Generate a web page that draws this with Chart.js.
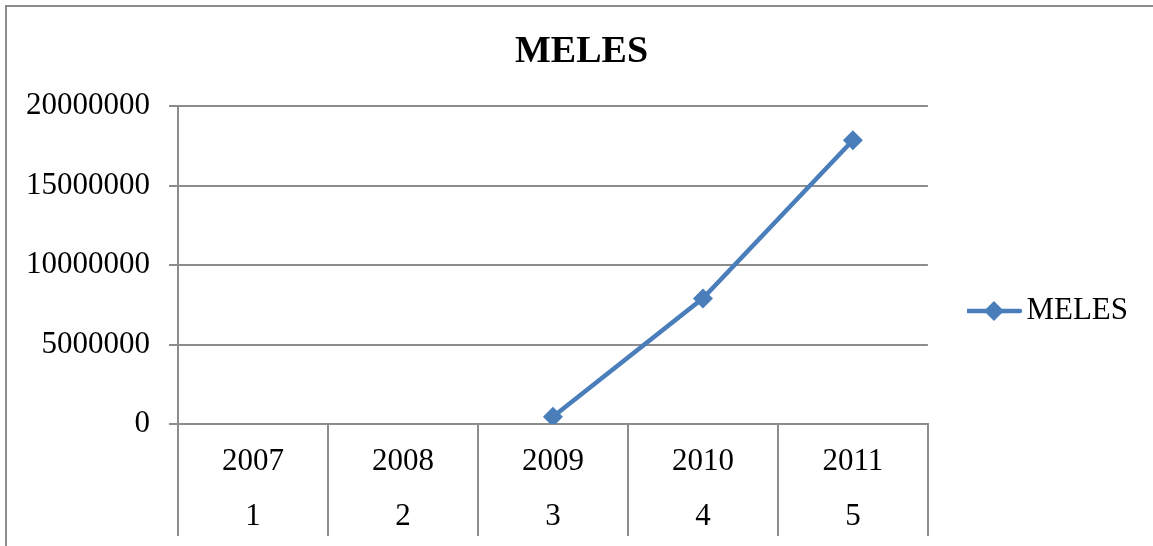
<!DOCTYPE html>
<html>
<head>
<meta charset="utf-8">
<title>MELES</title>
<script src="https://cdn.jsdelivr.net/npm/chart.js@4/dist/chart.umd.min.js"></script>
<style>
  html, body { margin: 0; padding: 0; background: #ffffff; }
  #wrap { position: relative; width: 1153px; height: 546px; }
</style>
</head>
<body>
<div id="wrap"><canvas id="chart" width="1153" height="546"></canvas></div>
<script>
// Years and their running index (two-row category labels)
const years = ['2007', '2008', '2009', '2010', '2011'];
const yearIndex = ['1', '2', '3', '4', '5'];
// MELES values per year (no value for the first two years)
const melesValues = [null, null, 450000, 7900000, 17850000];
// Value axis ticks
const yTicks = [0, 5000000, 10000000, 15000000, 20000000];

const categories = years.map((y, i) => [y, yearIndex[i]]);

const SERIES_COLOR = '#4A7EBB';
const GRID_COLOR = '#8c8c8c';
const FONT = 'Liberation Serif';

// Legend symbol: short line with a diamond marker
function legendSymbol() {
  const c = document.createElement('canvas');
  c.width = 58; c.height = 24;
  const g = c.getContext('2d');
  g.strokeStyle = SERIES_COLOR;
  g.lineWidth = 4.5;
  g.lineCap = 'round';
  g.beginPath(); g.moveTo(3, 12); g.lineTo(55, 12); g.stroke();
  g.fillStyle = SERIES_COLOR;
  g.beginPath();
  g.moveTo(29, 2); g.lineTo(39, 12); g.lineTo(29, 22); g.lineTo(19, 12); g.closePath();
  g.fill();
  return c;
}

// Outer chart frame
const framePlugin = {
  id: 'frame',
  beforeDraw(chart) {
    const ctx = chart.ctx;
    ctx.save();
    ctx.strokeStyle = GRID_COLOR;
    ctx.lineWidth = 2;
    ctx.strokeRect(6, 6, 1200, 600);
    ctx.restore();
  }
};

// Placement of the legend block beside the plot and of the title across the frame
const blockPlacement = {
  id: 'blockPlacement',
  afterLayout(chart) {
    const lg = chart.legend;
    if (lg) {
      const dy = 311 - (lg.top + lg.bottom) / 2;
      lg.top += dy;
      lg.bottom += dy;
      lg.left += 39;
      lg.right += 39;
    }
    const tb = chart.titleBlock;
    if (tb) {
      tb.left += 28;
      tb.right += 28;
    }
  }
};

new Chart(document.getElementById('chart'), {
  type: 'line',
  data: {
    labels: categories,
    datasets: [{
      label: 'MELES',
      data: melesValues,
      borderColor: SERIES_COLOR,
      backgroundColor: SERIES_COLOR,
      borderWidth: 4.5,
      pointStyle: 'rectRot',
      pointRadius: 10,
      pointBorderWidth: 0,
      pointBackgroundColor: SERIES_COLOR,
      tension: 0,
      spanGaps: false
    }]
  },
  options: {
    responsive: false,
    animation: false,
    layout: { padding: { left: 8, top: 0, right: 54, bottom: 0 } },
    plugins: {
      title: {
        display: true,
        text: 'MELES',
        color: '#000000',
        font: { family: FONT, size: 38, weight: 'bold', lineHeight: 1.2 },
        padding: { top: 29, bottom: 31.4 }
      },
      legend: {
        display: true,
        position: 'right',
        align: 'center',
        labels: {
          usePointStyle: true,
          pointStyle: legendSymbol(),
          pointStyleWidth: 34,
          color: '#000000',
          font: { family: FONT, size: 31 },
          padding: 10
        }
      },
      tooltip: { enabled: false }
    },
    scales: {
      x: {
        type: 'category',
        offset: true,
        grid: {
          offset: true,
          drawOnChartArea: false,
          drawTicks: true,
          tickLength: 112,
          color: GRID_COLOR,
          lineWidth: 2
        },
        border: { display: true, color: GRID_COLOR, width: 2 },
        ticks: {
          color: '#000000',
          font: { family: FONT, size: 31, lineHeight: 1.774 },
          padding: -101.5,
          maxRotation: 0,
          autoSkip: false
        },
        afterFit(scale) { scale.height = 122; }
      },
      y: {
        min: 0,
        max: 20000000,
        grid: {
          color: GRID_COLOR,
          lineWidth: 2,
          drawTicks: true,
          tickLength: 9
        },
        border: { display: true, color: GRID_COLOR, width: 2 },
        ticks: {
          stepSize: 5000000,
          color: '#000000',
          font: { family: FONT, size: 31 },
          padding: 19,
          callback: (v) => yTicks.includes(v) ? String(v) : ''
        },
        afterFit(scale) { scale.width = 170; }
      }
    }
  },
  plugins: [framePlugin, blockPlacement]
});
</script>
</body>
</html>
